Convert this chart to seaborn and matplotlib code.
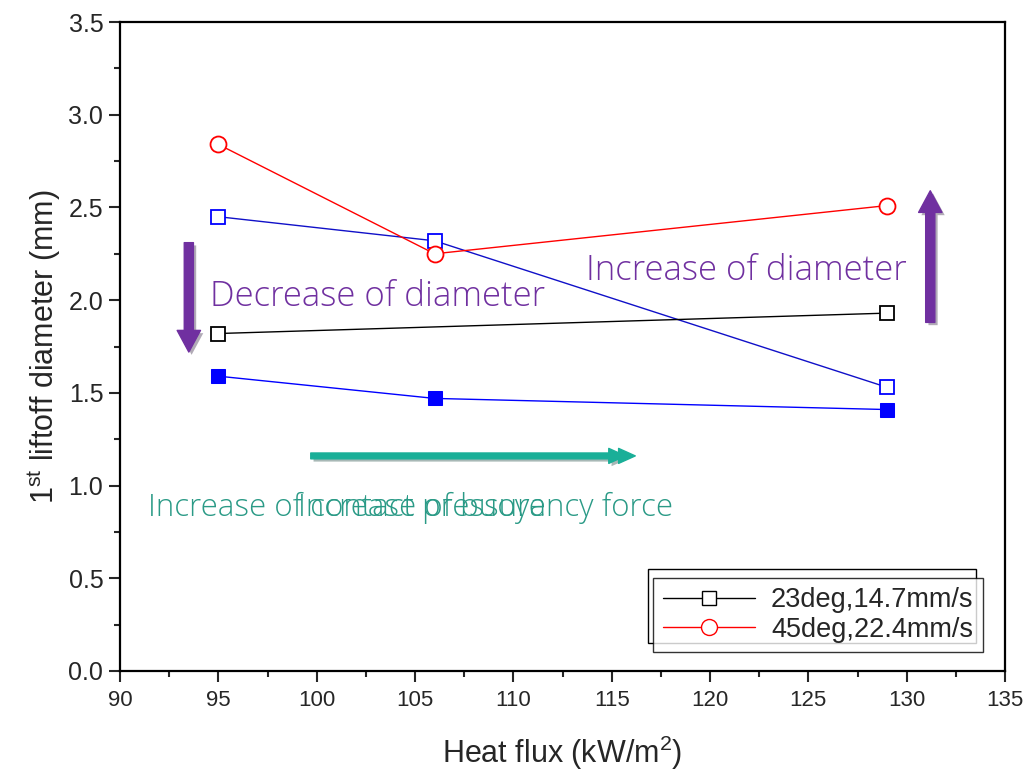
import numpy as np
import pandas as pd
import seaborn as sns
import matplotlib.pyplot as plt
import matplotlib.patheffects as pe
from matplotlib.patches import Rectangle
from matplotlib.lines import Line2D

# heat flux (kW/m2) and 1st liftoff diameter (mm)
heat_flux_a = [95, 129]
diam_23deg = [1.82, 1.93]
heat_flux_b = [95, 106, 129]
diam_45deg = [2.84, 2.25, 2.51]
diam_blue_open = [2.45, 2.32, 1.53]
diam_blue_fill = [1.59, 1.47, 1.41]

labels = ['23deg,14.7mm/s', '45deg,22.4mm/s']

sns.set_theme(style='white')
plt.rcParams['font.family'] = ['Liberation Sans', 'DejaVu Sans']
plt.rcParams['mathtext.fontset'] = 'custom'
plt.rcParams['mathtext.rm'] = 'Liberation Sans'

fig = plt.figure(figsize=(10.27, 7.77), dpi=100)
ax = fig.add_axes([120/1027, 106/777, 885/1027, 649/777])

sns.lineplot(x=heat_flux_b, y=diam_blue_open, ax=ax, color='#1010c8', lw=1,
             marker='s', ms=10, mfc='white', mec='blue', mew=1.3)
sns.lineplot(x=heat_flux_b, y=diam_blue_fill, ax=ax, color='blue', lw=1,
             marker='s', ms=10, mfc='blue', mec='blue')
sns.lineplot(x=heat_flux_a, y=diam_23deg, ax=ax, color='black', lw=1,
             marker='s', ms=10, mfc='white', mec='black', mew=1.3)
sns.lineplot(x=heat_flux_b, y=diam_45deg, ax=ax, color='red', lw=1,
             marker='o', ms=11.5, mfc='white', mec='red', mew=1.3)

ax.set_xlim(90, 135)
ax.set_ylim(0, 3.5)
ax.set_xticks(np.arange(90, 136, 5))
ax.set_xticks(np.arange(92.5, 135, 5), minor=True)
ax.set_yticks(np.arange(0, 3.51, 0.5))
ax.set_yticks(np.arange(0.25, 3.5, 0.5), minor=True)
ax.set_yticklabels([f'{v:.1f}' for v in np.arange(0, 3.51, 0.5)])
for s in ax.spines.values():
    s.set_color('black')
    s.set_linewidth(1.6)
ax.tick_params(which='major', direction='out', length=8, width=1.5,
               bottom=True, left=True, top=False, right=False)
ax.tick_params(which='minor', direction='out', length=4, width=1.5,
               bottom=True, left=True, top=False, right=False)
ax.tick_params(axis='y', labelsize=18, pad=4)
ax.tick_params(axis='x', labelsize=16, pad=6)
ax.set_xlabel('Heat flux (kW/m$^2$)', fontsize=22, labelpad=16)
ax.set_ylabel('1$^{\\rm st}$ liftoff diameter (mm)', fontsize=22, labelpad=4)

# annotations
purple = '#7030a0'
teal = '#1aaf98'
tfont = ['Open Sans', 'DejaVu Sans']
ax.text(94.6, 2.02, 'Decrease of diameter', color=purple, fontsize=25,
        family=tfont, weight='light', va='center')
ax.text(113.7, 2.16, 'Increase of diameter', color=purple, fontsize=25,
        family=tfont, weight='light', va='center')
ax.text(91.4, 0.88, 'Increase of contact pressure', color='#2a9a86', fontsize=22.5,
        family=tfont, weight='light', va='center')
ax.text(99.05, 0.88, 'Increase of buoyancy force', color='#2a9a86', fontsize=22.5,
        family=tfont, weight='light', va='center')

shadow = [pe.SimplePatchShadow(offset=(2, -2), alpha=0.35), pe.Normal()]
ax.annotate('', xy=(93.5, 1.72), xytext=(93.5, 2.31),
            arrowprops=dict(arrowstyle='simple,head_width=1.4,head_length=1.3,tail_width=0.55',
                            color=purple, shrinkA=0, shrinkB=0, path_effects=shadow))
ax.annotate('', xy=(131.2, 2.59), xytext=(131.2, 1.88),
            arrowprops=dict(arrowstyle='simple,head_width=1.4,head_length=1.3,tail_width=0.55',
                            color=purple, shrinkA=0, shrinkB=0, path_effects=shadow))
ax.annotate('', xy=(115.7, 1.16), xytext=(99.7, 1.16),
            arrowprops=dict(arrowstyle='simple,head_width=0.9,head_length=1.0,tail_width=0.35',
                            color=teal, shrinkA=0, shrinkB=0, path_effects=shadow))
ax.annotate('', xy=(116.2, 1.16), xytext=(114.5, 1.16),
            arrowprops=dict(arrowstyle='simple,head_width=0.9,head_length=1.0,tail_width=0.01',
                            color=teal, shrinkA=0, shrinkB=0))

# legend with offset outline box behind
handles = [Line2D([], [], color='black', lw=1, marker='s', ms=10, mfc='white', mec='black'),
           Line2D([], [], color='red', lw=1, marker='o', ms=11.5, mfc='white', mec='red')]
back = Rectangle((648/1027, 1 - 643/777), 328/1027, 74/777, transform=fig.transFigure,
                 facecolor='white', edgecolor='black', lw=1, zorder=5)
ax.add_artist(back)
leg = ax.legend(handles, labels, loc='lower right', bbox_to_anchor=(983/1027, 1 - 652/777),
                bbox_transform=fig.transFigure, fontsize=19.5, frameon=True, fancybox=False,
                handlelength=3.4, borderpad=0.35, labelspacing=0.12, handletextpad=0.6,
                borderaxespad=0)
leg.get_frame().set_edgecolor('black')
leg.get_frame().set_linewidth(1)
leg.set_zorder(10)

fig.savefig('out.png', dpi=100)
